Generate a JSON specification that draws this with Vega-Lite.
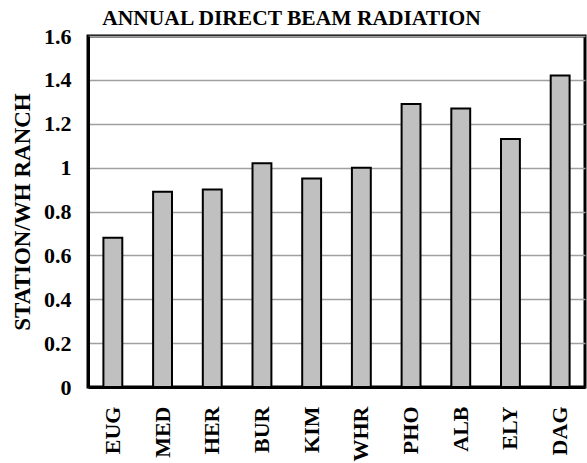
{
  "$schema": "https://vega.github.io/schema/vega-lite/v6.json",
  "autosize": "none",
  "width": 497,
  "height": 351,
  "padding": {"left": 88, "top": 36, "right": 2, "bottom": 76},
  "background": "white",
  "title": {
    "text": "ANNUAL DIRECT BEAM RADIATION",
    "font": "Liberation Serif",
    "fontSize": 21.5,
    "fontWeight": "bold",
    "color": "black",
    "anchor": "middle",
    "dx": -45,
    "offset": -4
  },
  "config": {
    "view": {"stroke": "black", "strokeWidth": 3},
    "axis": {
      "labelFont": "Liberation Serif",
      "titleFont": "Liberation Serif",
      "labelFontWeight": "bold",
      "titleFontWeight": "bold",
      "labelColor": "black",
      "titleColor": "black",
      "labelFontSize": 22,
      "titleFontSize": 23,
      "ticks": false
    }
  },
  "data": {
    "values": [
      {"station": "EUG", "ratio": 0.68},
      {"station": "MED", "ratio": 0.89},
      {"station": "HER", "ratio": 0.90},
      {"station": "BUR", "ratio": 1.02},
      {"station": "KIM", "ratio": 0.95},
      {"station": "WHR", "ratio": 1.00},
      {"station": "PHO", "ratio": 1.29},
      {"station": "ALB", "ratio": 1.27},
      {"station": "ELY", "ratio": 1.13},
      {"station": "DAG", "ratio": 1.42}
    ]
  },
  "mark": {"type": "bar", "fill": "#c0c0c0", "stroke": "black", "strokeWidth": 2},
  "encoding": {
    "x": {
      "field": "station",
      "type": "nominal",
      "sort": null,
      "scale": {"paddingInner": 0.62, "paddingOuter": 0.31},
      "axis": {
        "title": null,
        "labelAngle": -90,
        "labelPadding": 19,
        "domain": true,
        "domainColor": "black",
        "domainWidth": 3,
        "grid": false
      }
    },
    "y": {
      "field": "ratio",
      "type": "quantitative",
      "scale": {"domain": [0, 1.6], "nice": false},
      "axis": {
        "title": "STATION/WH RANCH",
        "titlePadding": 9,
        "values": [0, 0.2, 0.4, 0.6, 0.8, 1, 1.2, 1.4, 1.6],
        "format": "~g",
        "labelPadding": 17,
        "domain": true,
        "domainColor": "black",
        "domainWidth": 3,
        "grid": true,
        "gridColor": "#a0a0a0",
        "gridWidth": 1.5
      }
    }
  }
}
